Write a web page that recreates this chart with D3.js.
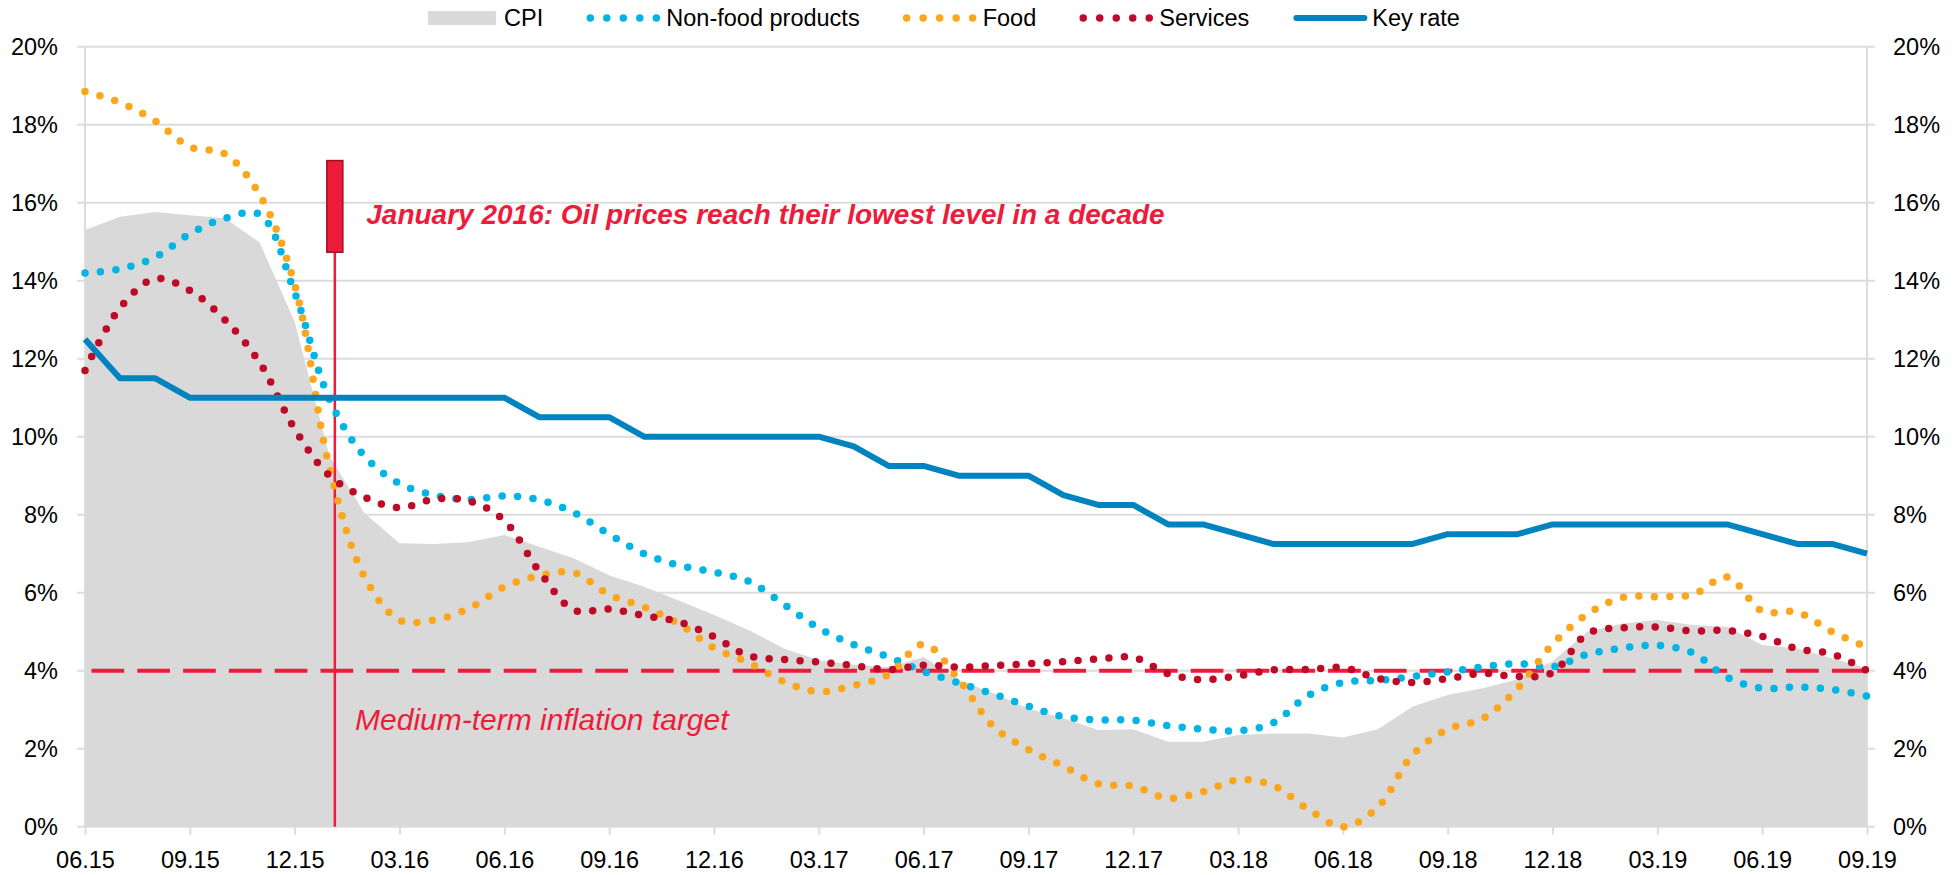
<!DOCTYPE html>
<html>
<head>
<meta charset="utf-8">
<script src="https://cdn.jsdelivr.net/npm/d3@7"></script>
<style>
  body { margin: 0; background: #fff; }
  svg text { font-family: "Liberation Sans", Arial, sans-serif; fill: #000; }
</style>
</head>
<body>
<svg id="chart" width="1960" height="875"></svg>
<script>
// ---------------------- DATA ----------------------

const months = [
  "06.15","07.15","08.15","09.15","10.15","11.15","12.15",
  "01.16","02.16","03.16","04.16","05.16","06.16","07.16","08.16","09.16","10.16","11.16","12.16",
  "01.17","02.17","03.17","04.17","05.17","06.17","07.17","08.17","09.17","10.17","11.17","12.17",
  "01.18","02.18","03.18","04.18","05.18","06.18","07.18","08.18","09.18","10.18","11.18","12.18",
  "01.19","02.19","03.19","04.19","05.19","06.19","07.19","08.19","09.19"
];

const cpi = [15.3, 15.64, 15.76, 15.68, 15.6, 14.98, 12.95, 9.5, 8.04, 7.27,
  7.25, 7.3, 7.48, 7.18, 6.88, 6.45, 6.15, 5.8, 5.43, 5.04,
  4.57, 4.27, 4.15, 4.09, 4.35, 3.76, 3.42, 3.03, 2.78, 2.48,
  2.5, 2.18, 2.18, 2.35, 2.39, 2.39, 2.29, 2.5, 3.08, 3.38,
  3.55, 3.78, 4.24, 5.0, 5.21, 5.3, 5.17, 5.13, 4.66, 4.57,
  4.32, 4.06];

const nonFood = [14.2, 14.3, 14.6, 15.2, 15.6, 15.7, 13.7, 10.95, 9.5, 8.8,
  8.5, 8.39, 8.48, 8.38, 8.05, 7.5, 7.0, 6.7, 6.53, 6.29,
  5.7, 5.09, 4.67, 4.35, 3.98, 3.69, 3.4, 3.09, 2.82, 2.74,
  2.73, 2.59, 2.5, 2.46, 2.66, 3.36, 3.7, 3.75, 3.85, 3.97,
  4.1, 4.18, 4.1, 4.42, 4.58, 4.65, 4.46, 3.83, 3.55, 3.58,
  3.52, 3.35];

const food = [18.85, 18.57, 18.1, 17.43, 17.25, 16.2, 13.9, 9.19, 6.41, 5.3,
  5.3, 5.6, 6.15, 6.44, 6.51, 5.95, 5.63, 5.2, 4.58, 4.2,
  3.72, 3.46, 3.62, 3.9, 4.68, 3.78, 2.57, 1.98, 1.55, 1.1,
  1.04, 0.73, 0.9, 1.2, 1.06, 0.45, 0.0, 0.5, 1.85, 2.5,
  2.77, 3.55, 4.68, 5.45, 5.88, 5.9, 5.95, 6.4, 5.53, 5.5,
  5.0, 4.6];

const services = [11.7, 13.3, 14.05, 13.75, 13.0, 11.9, 10.2, 9.0, 8.45, 8.18,
  8.4, 8.35, 7.85, 6.55, 5.55, 5.58, 5.41, 5.25, 4.87, 4.38,
  4.29, 4.22, 4.13, 4.03, 4.14, 4.09, 4.13, 4.18, 4.23, 4.3,
  4.34, 3.92, 3.77, 3.87, 4.02, 4.03, 4.08, 3.8, 3.7, 3.8,
  3.93, 3.85, 3.95, 4.95, 5.1, 5.12, 5.02, 5.03, 4.88, 4.56,
  4.43, 4.0];

const keyRate = [12.5, 11.5, 11.5, 11, 11, 11, 11, 11, 11, 11,
  11, 11, 11, 10.5, 10.5, 10.5, 10, 10, 10, 10,
  10, 10, 9.75, 9.25, 9.25, 9, 9, 9, 8.5, 8.25,
  8.25, 7.75, 7.75, 7.5, 7.25, 7.25, 7.25, 7.25, 7.25, 7.5,
  7.5, 7.5, 7.75, 7.75, 7.75, 7.75, 7.75, 7.75, 7.5, 7.25,
  7.25, 7.0];

const inflationTarget = 4;
const yTicks = [0, 2, 4, 6, 8, 10, 12, 14, 16, 18, 20];
const xTicks = [0, 3, 6, 9, 12, 15, 18, 21, 24, 27, 30, 33, 36, 39, 42, 45, 48, 51];

// oil price event: position in months from 06.15, box range in %
const oilEvent = { at: 7.15, boxLow: 14.73, boxHigh: 17.08 };

const legendItems = [
  { name: "CPI", kind: "area", color: "#d9d9d9" },
  { name: "Non-food products", kind: "dots", color: "#00b4e4" },
  { name: "Food", kind: "dots", color: "#fba61c" },
  { name: "Services", kind: "dots", color: "#be0a26" },
  { name: "Key rate", kind: "line", color: "#0083bf" }
];

// ---------------------- SETUP ----------------------

const RED = "#ee1c3b";
const GRID = "#dcdcdc";
const FONT = 23.5;

const svg = d3.select("#chart");

const x = d3.scaleLinear().domain([0, months.length - 1]).range([85, 1867]);
const y = d3.scaleLinear().domain([0, 20]).range([826.7, 46.7]);

// gridlines (incl. outward tick stubs on both sides)
svg.append("g")
  .selectAll("line")
  .data(yTicks)
  .join("line")
  .attr("x1", x(0) - 8)
  .attr("x2", x(months.length - 1) + 8)
  .attr("y1", d => y(d))
  .attr("y2", d => y(d))
  .attr("stroke", GRID)
  .attr("stroke-width", 2);

// ---------------------- SERIES ----------------------

// CPI area
svg.append("path")
  .datum(cpi)
  .attr("fill", "#d9d9d9")
  .attr("d", d3.area()
    .x((d, i) => x(i))
    .y0(y(0))
    .y1(d => y(d)));

// vertical axis lines
[0, months.length - 1].forEach(i => {
  svg.append("line")
    .attr("x1", x(i)).attr("x2", x(i))
    .attr("y1", y(20)).attr("y2", y(0))
    .attr("stroke", GRID)
    .attr("stroke-width", 2);
});

// x axis ticks + labels
const xAxis = svg.append("g")
  .attr("transform", `translate(0,${y(0)})`)
  .call(d3.axisBottom(x)
    .tickValues(xTicks)
    .tickSize(8)
    .tickFormat(i => months[i]));
xAxis.select(".domain").remove();
xAxis.selectAll(".tick line").attr("stroke", GRID).attr("stroke-width", 2);
xAxis.selectAll(".tick text")
  .attr("y", 25)
  .attr("dy", "0.71em")
  .attr("font-size", FONT);

// y axis labels, both sides
const yLeft = svg.append("g")
  .attr("transform", `translate(${x(0) - 24},0)`)
  .call(d3.axisLeft(y).tickValues(yTicks).tickSize(0).tickFormat(d => d + "%"));
const yRight = svg.append("g")
  .attr("transform", `translate(${x(months.length - 1) + 23},0)`)
  .call(d3.axisRight(y).tickValues(yTicks).tickSize(0).tickFormat(d => d + "%"));
[yLeft, yRight].forEach(g => {
  g.select(".domain").remove();
  g.selectAll(".tick text").attr("font-size", FONT);
});

// medium-term inflation target
svg.append("line")
  .attr("x1", x(0)).attr("x2", x(months.length - 1))
  .attr("y1", y(inflationTarget)).attr("y2", y(inflationTarget))
  .attr("stroke", RED)
  .attr("stroke-width", 4)
  .attr("stroke-dasharray", "32.7 13.1")
  .attr("stroke-dashoffset", 39.3);

// oil price event line
svg.append("line")
  .attr("x1", x(oilEvent.at)).attr("x2", x(oilEvent.at))
  .attr("y1", y(0)).attr("y2", y(oilEvent.boxLow))
  .attr("stroke", RED)
  .attr("stroke-width", 2.5);

const smooth = d3.line()
  .x((d, i) => x(i))
  .y(d => y(d))
  .curve(d3.curveCatmullRom.alpha(0.5));

[[nonFood, legendItems[1].color], [food, legendItems[2].color], [services, legendItems[3].color]]
  .forEach(([values, color]) => {
    svg.append("path")
      .datum(values)
      .attr("fill", "none")
      .attr("stroke", color)
      .attr("stroke-width", 7.5)
      .attr("stroke-linecap", "round")
      .attr("stroke-dasharray", "0 15.5")
      .attr("d", smooth);
  });

// key rate
svg.append("path")
  .datum(keyRate)
  .attr("fill", "none")
  .attr("stroke", legendItems[4].color)
  .attr("stroke-width", 6)
  .attr("stroke-linejoin", "round")
  .attr("d", d3.line().x((d, i) => x(i)).y(d => y(d)));

// event box
svg.append("rect")
  .attr("x", x(oilEvent.at) - 8)
  .attr("width", 16)
  .attr("y", y(oilEvent.boxHigh))
  .attr("height", y(oilEvent.boxLow) - y(oilEvent.boxHigh))
  .attr("fill", RED)
  .attr("stroke", "#9c1022")
  .attr("stroke-width", 1.5);

// ---------------------- ANNOTATIONS ----------------------

svg.append("text")
  .attr("x", x(8.05))
  .attr("y", y(15.7))
  .attr("dy", "0.35em")
  .attr("font-size", 28)
  .attr("font-weight", "bold")
  .attr("font-style", "italic")
  .style("fill", RED)
  .text("January 2016: Oil prices reach their lowest level in a decade");

svg.append("text")
  .attr("x", x(7.73))
  .attr("y", y(2.74))
  .attr("dy", "0.35em")
  .attr("font-size", 30)
  .attr("font-style", "italic")
  .style("fill", RED)
  .text("Medium-term inflation target");

// ---------------------- LEGEND ----------------------

const legend = svg.append("g");
const SW = 68;
let cursor = 0;
legendItems.forEach(item => {
  const g = legend.append("g").attr("transform", `translate(${cursor},18)`);
  if (item.kind === "area") {
    g.append("rect").attr("x", 0).attr("y", -7).attr("width", SW).attr("height", 14).attr("fill", item.color);
  } else if (item.kind === "dots") {
    g.append("line").attr("x1", 0).attr("x2", SW).attr("y1", 0).attr("y2", 0)
      .attr("stroke", item.color).attr("stroke-width", 7.5)
      .attr("stroke-linecap", "round").attr("stroke-dasharray", "0 16.5");
  } else {
    g.append("line").attr("x1", 0).attr("x2", SW).attr("y1", 0).attr("y2", 0)
      .attr("stroke", item.color).attr("stroke-width", 6).attr("stroke-linecap", "round");
  }
  const t = g.append("text")
    .attr("x", SW + 8)
    .attr("dy", "0.35em")
    .attr("font-size", FONT)
    .text(item.name);
  cursor += SW + 8 + t.node().getComputedTextLength() + 47;
});
const legendWidth = cursor - 47;
legend.attr("transform", `translate(${944 - legendWidth / 2},0)`);
</script>
</body>
</html>
